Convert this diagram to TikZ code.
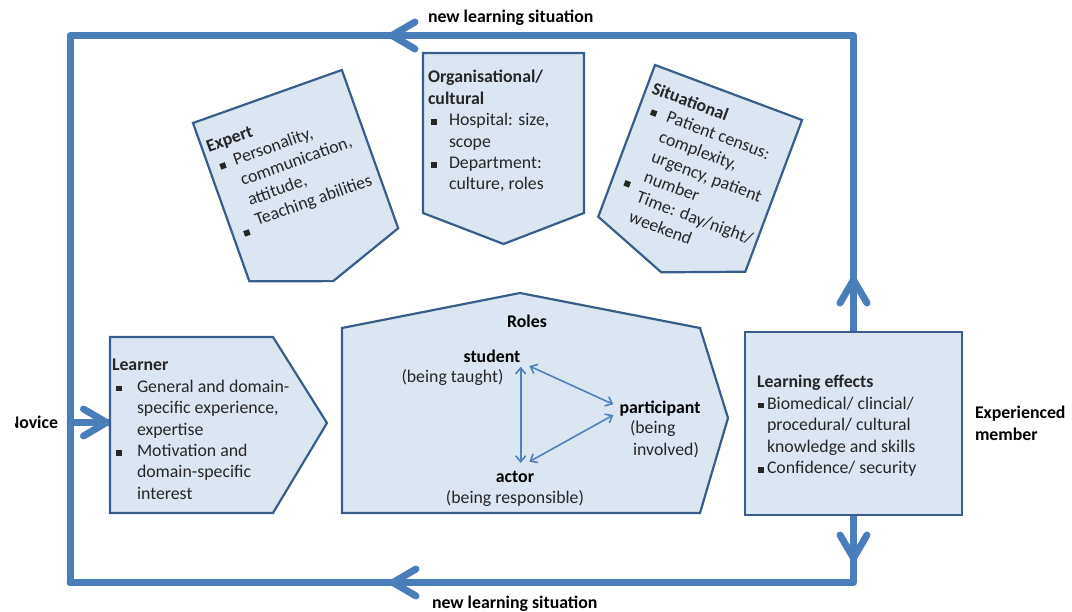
\documentclass[tikz,border=0pt]{standalone}
\usepackage{fontspec}
\setmainfont{Carlito}
\usetikzlibrary{arrows.meta,decorations.markings}

\definecolor{boxfill}{HTML}{DCE6F2}
\definecolor{boxline}{HTML}{385D8A}
\definecolor{flowblue}{HTML}{4A7EBB}
\definecolor{roleblue}{HTML}{4F81BD}
\definecolor{softtext}{HTML}{262626}

% square bullet, bullet cell of width #1 with the square indented by #2
\newcommand{\sqb}{\rule[1pt]{5.8pt}{5.8pt}}
\newcommand{\bul}[2]{\makebox[#1pt][l]{\hspace*{#2pt}\sqb}}
\newcommand{\bulat}[3]{\makebox[#1pt][l]{\hspace*{#2pt}\raisebox{#3pt}{\sqb}}}
\newcommand{\ind}[1]{\hspace*{#1pt}}
\newcommand{\chevcode}{\draw[chevron] (-23pt,13.5pt) -- (0pt,0pt) -- (-23pt,-13.5pt);}

\tikzset{
  box/.style={draw=boxline, fill=boxfill, line width=2.2pt, line join=miter},
  flow/.style={draw=flowblue, line width=7pt, line join=round, line cap=round},
  chevron/.style={draw=flowblue, line width=7pt, line cap=round, line join=round},
  txt/.style={inner sep=0pt, outer sep=0pt, align=left, anchor=north west,
              text=softtext, font=\fontsize{17.8pt}{21.4pt}\selectfont},
  lbl/.style={inner sep=0pt, outer sep=0pt, text=black,
              font=\fontsize{17.8pt}{21.4pt}\selectfont},
  rolearrow/.style={draw=roleblue, line width=1.6pt,
              {Straight Barb[length=6pt,width=10pt]}-{Straight Barb[length=6pt,width=10pt]}},
}

\begin{document}
\begin{tikzpicture}[x=1pt,y=1pt]
\useasboundingbox (0,0) rectangle (1072,-612);

% ---- loop corners and connector ends
\coordinate (tr) at (853.5,-35.5);
\coordinate (tl) at (70,-35.5);
\coordinate (bl) at (70,-582.5);
\coordinate (br) at (853.5,-582.5);
\coordinate (nov) at (70,-422.5);
\coordinate (learnerW) at (110,-422.5);

% ---- learning effects box (named, used by the loop)
\node[box, outer sep=0pt, inner sep=0pt, minimum width=217pt, minimum height=183pt]
  (le) at (853.5,-423.5) {};

% ---- feedback loop: over the top and along the bottom
\draw[flow, postaction={decorate, decoration={markings,
      mark=at position 52pt with {\chevcode},
      mark=at position 758pt with {\chevcode}}}]
  (le.north) -- (tr) -- (tl) -- (bl);
\draw[flow, postaction={decorate, decoration={markings,
      mark=at position 43pt with {\chevcode},
      mark=at position 528pt with {\chevcode}}}]
  (le.south) -- (br) -- (bl);
\draw[flow, postaction={decorate, decoration={markings,
      mark=at position 36.5pt with {\chevcode}}}]
  (nov) -- (learnerW);

% redraw the learning effects box over the line ends
\node[box, outer sep=0pt, inner sep=0pt, minimum width=217pt, minimum height=183pt]
  (le2) at (le.center) {};

% ---- learner
\draw[box] (110,-337) -- (273,-337) -- (327,-423) -- (273,-513) -- (110,-513) -- cycle;
\node[txt] (learnertxt) at (112,-356) {\strut\textbf{Learner}\\
  \bul{25}{4}General and domain-\\
  \ind{25}specific experience,\\
  \ind{25}expertise\\
  \bul{25}{4}Motivation and\\
  \ind{25}domain-specific\\
  \ind{25}interest};

% ---- roles
\draw[box] (342,-513) -- (342,-328) -- (520,-293) -- (700,-328) -- (728,-418) -- (700,-513) -- cycle;
\node[lbl, anchor=base] (roles) at (527,-327.5) {\textbf{Roles}};
\node[lbl, anchor=base] (student) at (492,-362.5) {\textbf{student}};
\node[lbl, anchor=base, text=softtext] (studentx) at (452.5,-382.5) {(being taught)};
\node[lbl, anchor=base] (participant) at (660,-413.5) {\textbf{participant}};
\node[lbl, anchor=base west, text=softtext] (participantx) at (630,-433.5) {(being};
\node[lbl, anchor=base west, text=softtext] (participanty) at (633,-455.5) {involved)};
\node[lbl, anchor=base] (actor) at (515,-482.5) {\textbf{actor}};
\node[lbl, anchor=base, text=softtext] (actorx) at (515,-503.5) {(being responsible)};

\coordinate (sA) at (520.7,-366.7);
\coordinate (aA) at (520.7,-463);
\coordinate (sP) at (529.3,-366);
\coordinate (pS) at (613.3,-404.3);
\coordinate (aP) at (529.3,-461.7);
\coordinate (pA) at (613.3,-415);
\draw[rolearrow] (sA) -- (aA);
\draw[rolearrow] (sP) -- (pS);
\draw[rolearrow] (aP) -- (pA);

% ---- organisational / cultural
\draw[box] (423,-53) -- (584,-53) -- (584,-213) -- (503.5,-244) -- (423,-213) -- cycle;
\node[txt] (orgtxt) at (428,-68) {\strut\textbf{Organisational/}\\
  \textbf{cultural}\\
  \bul{21}{3}Hospital: size,\\
  \ind{21}scope\\
  \bul{21}{3}Department:\\
  \ind{21}culture, roles};

% ---- expert (tilted)
\begin{scope}[shift={(193,-123)}, rotate=19.6]
  \draw[box] (0,0) -- (158,0) -- (158,-168) -- (79,-196) -- (0,-168) -- cycle;
  \node[txt, transform shape] (experttxt) at (5,-18) {\strut\textbf{Expert}\\
    \bul{21}{6}Personality,\\
    \ind{21}communication,\\
    \ind{21}attitude,\\
    \bulat{21}{6}{-7}Teaching abilities};
\end{scope}

% ---- situational (tilted)
\begin{scope}[shift={(655,-65)}, rotate=-20.5]
  \draw[box] (0,0) -- (157,0) -- (157,-162) -- (78.5,-192) -- (0,-162) -- cycle;
  \node[txt, transform shape] (situtxt) at (6,-13) {\strut\textbf{Situational}\\
    \bul{23.6}{6.7}Patient census:\\
    \ind{23.6}complexity,\\
    \ind{23.6}urgency, patient\\
    \ind{23.6}number\\
    \bulat{23.6}{6.7}{10}Time: day/night/\\
    \ind{23.6}weekend};
\end{scope}

% ---- learning effects text
\node[txt] (letxt) at (757,-373) {\strut\textbf{Learning effects}\\
  \bul{10}{1}Biomedical/ clincial/\\
  \ind{10}procedural/ cultural\\
  \ind{10}knowledge and skills\\
  \bul{10}{1}Confidence/ security};

% ---- side and loop labels
\node[txt, text=black] (experienced) at (975,-404) {\strut\textbf{Experienced}\\ \textbf{member}};
\begin{scope}
  % the start label sits in a text frame whose left edge cuts into the first letter
  \clip (15.5,-400) rectangle (66,-445);
  \node[lbl, anchor=base east] (novice) at (58,-429) {\textbf{Novice}};
\end{scope}
\node[lbl, anchor=base west] (newtop) at (428,-23) {\textbf{new learning situation}};
\node[lbl, anchor=base west] (newbot) at (432,-608) {\textbf{new learning situation}};
\end{tikzpicture}
\end{document}
